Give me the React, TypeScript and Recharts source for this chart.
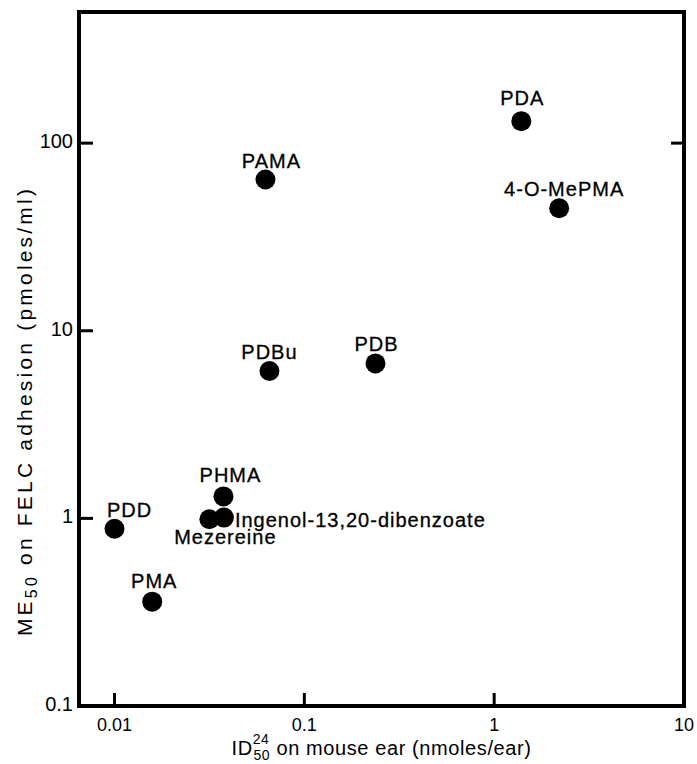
import { Scatter, ScatterChart, XAxis, YAxis } from "recharts";

const compounds = [
  "PDA",
  "4-O-MePMA",
  "PAMA",
  "PDBu",
  "PDB",
  "PHMA",
  "Ingenol-13,20-dibenzoate",
  "Mezereine",
  "PDD",
  "PMA",
];
// ID50 (24 h) on mouse ear, nmoles/ear
const earId50 = [1.39, 2.2, 0.0624, 0.0655, 0.237, 0.0375, 0.0377, 0.0316, 0.01, 0.0158];
// ME50 on FELC adhesion, pmoles/ml
const felcMe50 = [131, 45, 64, 6.1, 6.7, 1.31, 1.01, 0.99, 0.88, 0.36];

const xTicks = [0.01, 0.1, 1, 10];
const xTickLabels = ["0.01", "0.1", "1", "10"];
const yTicks = [0.1, 1, 10, 100];
const yTickLabels = ["0.1", "1", "10", "100"];

const points = compounds.map((name, i) => ({ name, x: earId50[i], y: felcMe50[i] }));

// where each name is written next to its dot
const labelPlace: Record<string, { anchor: "middle" | "start"; dx: number; dy: number }> = {
  PDA: { anchor: "middle", dx: 1, dy: -16 },
  "4-O-MePMA": { anchor: "middle", dx: 5, dy: -12 },
  PAMA: { anchor: "middle", dx: 6, dy: -12 },
  PDBu: { anchor: "middle", dx: 0, dy: -12 },
  PDB: { anchor: "middle", dx: 1, dy: -12 },
  PHMA: { anchor: "middle", dx: 7, dy: -14 },
  "Ingenol-13,20-dibenzoate": { anchor: "start", dx: 11, dy: 9 },
  Mezereine: { anchor: "middle", dx: 16, dy: 25 },
  PDD: { anchor: "middle", dx: 15, dy: -12 },
  PMA: { anchor: "middle", dx: 2, dy: -14 },
};

const FONT = "'Liberation Sans', Arial, Helvetica, sans-serif";
const axisStyle = { stroke: "#000", strokeWidth: 4, strokeLinecap: "square" as const };

function BottomTick({ x, y, payload }: any) {
  const i = xTicks.indexOf(payload.value);
  return (
    <g>
      <line x1={x} x2={x} y1={y} y2={y - 13} stroke="#000" strokeWidth={3} />
      <text x={x} y={y + 25} textAnchor="middle" fontSize={18} fontFamily={FONT} fill="#000">
        {xTickLabels[i]}
      </text>
    </g>
  );
}

function LeftTick({ x, y, payload }: any) {
  const i = yTicks.indexOf(payload.value);
  return (
    <g>
      <line x1={x} x2={x + 14} y1={y} y2={y} stroke="#000" strokeWidth={3} />
      <text x={x - 6} y={y + 5} textAnchor="end" fontSize={20} fontFamily={FONT} fill="#000">
        {yTickLabels[i]}
      </text>
    </g>
  );
}

function TopTick({ x, y }: any) {
  return <line x1={x} x2={x} y1={y} y2={y + 14} stroke="#000" strokeWidth={3} />;
}

function RightTick({ x, y }: any) {
  return <line x1={x} x2={x - 13} y1={y} y2={y} stroke="#000" strokeWidth={3} />;
}

function XTitle({ viewBox }: any) {
  const cx = viewBox.x + viewBox.width / 2;
  return (
    <text x={cx} y={755} textAnchor="middle" fontSize={20} fontFamily={FONT} fill="#000" letterSpacing={0.6}>
      ID
      <tspan fontSize={14} dy={-11}>24</tspan>
      <tspan fontSize={14} dx={-16} dy={16}>50</tspan>
      <tspan dy={-5}> on mouse ear (nmoles/ear)</tspan>
    </text>
  );
}

function YTitle({ viewBox }: any) {
  const cx = 32;
  const cy = viewBox.y + viewBox.height / 2 + 52;
  return (
    <text
      x={cx}
      y={cy}
      transform={`rotate(-90 ${cx} ${cy})`}
      textAnchor="middle"
      fontSize={21}
      fontFamily={FONT}
      fill="#000"
      letterSpacing={3.2}
    >
      ME
      <tspan fontSize={16} dy={5}>50</tspan>
      <tspan dy={-5}> on FELC adhesion (pmoles/ml)</tspan>
    </text>
  );
}

function DotWithName({ cx, cy, payload }: any) {
  const p = labelPlace[payload.name];
  return (
    <g>
      <circle cx={cx} cy={cy} r={10} fill="#000" />
      <text
        x={cx + p.dx}
        y={cy + p.dy}
        textAnchor={p.anchor}
        fontSize={20}
        fontFamily={FONT}
        fill="#000"
        stroke="#000"
        strokeWidth={0.3}
        letterSpacing={1}
      >
        {payload.name}
      </text>
    </g>
  );
}

export default function App() {
  return (
    <div style={{ position: "absolute", left: 0, top: 0, background: "#fff" }}>
      <ScatterChart width={697} height={764} margin={{ top: 0, right: 0, bottom: 0, left: 0 }}>
        <XAxis
          xAxisId="bottom"
          dataKey="x"
          type="number"
          scale="log"
          domain={[0.0065, 10]}
          allowDataOverflow
          ticks={xTicks}
          orientation="bottom"
          height={58}
          tickSize={0}
          tickMargin={0}
          tick={<BottomTick />}
          axisLine={axisStyle}
          label={{ content: <XTitle /> }}
        />
        <XAxis
          xAxisId="top"
          type="number"
          scale="log"
          domain={[0.0065, 10]}
          allowDataOverflow
          ticks={[0.01]}
          orientation="top"
          height={12}
          tickSize={0}
          tickMargin={0}
          tick={<TopTick />}
          axisLine={axisStyle}
        />
        <YAxis
          yAxisId="left"
          dataKey="y"
          type="number"
          scale="log"
          domain={[0.1, 500]}
          allowDataOverflow
          ticks={yTicks}
          width={79}
          tickSize={0}
          tickMargin={0}
          tick={<LeftTick />}
          axisLine={axisStyle}
          label={{ content: <YTitle /> }}
        />
        <YAxis
          yAxisId="right"
          type="number"
          scale="log"
          domain={[0.1, 500]}
          allowDataOverflow
          ticks={[100]}
          orientation="right"
          width={13}
          tickSize={0}
          tickMargin={0}
          tick={<RightTick />}
          axisLine={axisStyle}
        />
        <Scatter
          data={points}
          xAxisId="bottom"
          yAxisId="left"
          isAnimationActive={false}
          shape={<DotWithName />}
        />
      </ScatterChart>
    </div>
  );
}
